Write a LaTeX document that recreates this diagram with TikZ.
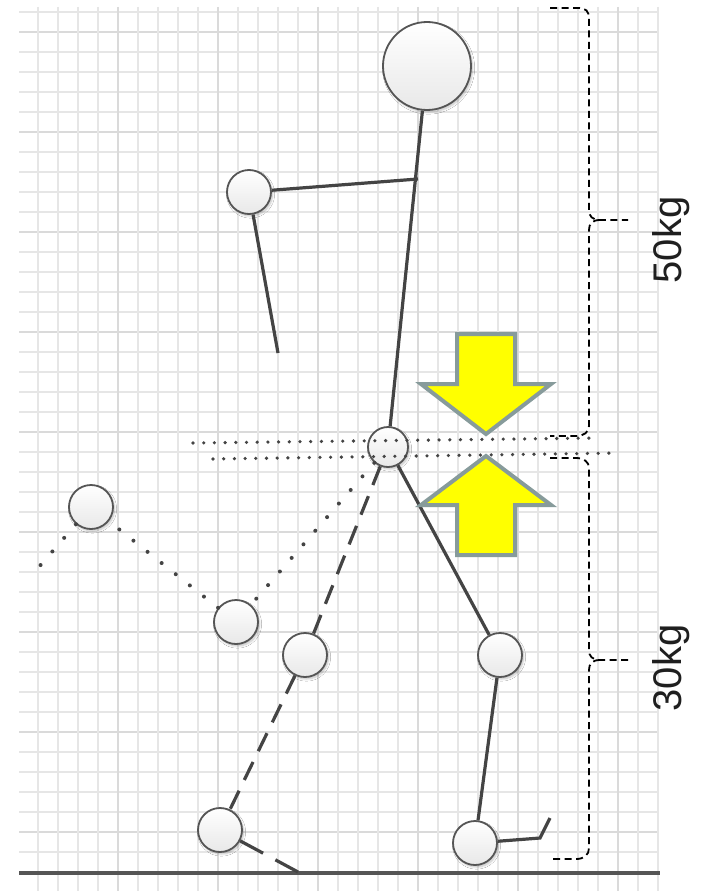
\documentclass[tikz,border=0pt]{standalone}
\usepackage{fontspec}
\setmainfont{Liberation Sans}
\usetikzlibrary{shadows.blur}
\definecolor{ink}{HTML}{444444}
\definecolor{rim}{HTML}{555555}
\definecolor{gridminor}{HTML}{E6E6E6}
\definecolor{gridmajor}{HTML}{DADADA}
\definecolor{arrowedge}{HTML}{879B9B}
\definecolor{arrowfill}{HTML}{FFFF00}
\begin{document}
\begin{tikzpicture}[x=1pt,y=-1pt,
  joint/.style={circle, draw=rim, line width=1.8pt, top color=white,
    bottom color=black!9, inner sep=0pt, minimum size=#1,
    blur shadow={shadow xshift=1.5pt, shadow yshift=-2pt,
      shadow blur steps=6, shadow opacity=25}},
  joint/.default=44pt,
  bone/.style={draw=ink, line width=3.2pt},
  dashedbone/.style={bone, dash pattern=on 20pt off 12pt},
  dottedbone/.style={draw=ink, line width=4pt, line cap=round,
    dash pattern=on 0pt off 18pt},
  levelline/.style={draw=ink, line width=3.6pt, line cap=round,
    dash pattern=on 0pt off 10.7pt},
  bracepath/.style={draw=black, line width=1.8pt, dash pattern=on 7pt off 4.5pt},
  bigarrow/.style={draw=arrowedge, fill=arrowfill, line width=4pt, line join=miter},
  weight/.style={rotate=90, font=\fontsize{40}{48}\selectfont, text=black!88}]

% canvas
\useasboundingbox (0,0) rectangle (702,891);
\fill[white] (0,0) rectangle (702,891);

% squared paper
\foreach \k in {0,...,43} {
  \pgfmathtruncatemacro{\yy}{12+20*\k}
  \pgfmathtruncatemacro{\ismajor}{mod(\k,5)==1 ? 1 : 0}
  \ifnum\ismajor=1
    \draw[gridmajor, line width=1.7pt] (19,\yy) -- (659,\yy);
  \else
    \draw[gridminor, line width=1.6pt] (19,\yy) -- (659,\yy);
  \fi
}
\foreach \k in {1,...,32} {
  \pgfmathtruncatemacro{\xx}{18+20*\k}
  \pgfmathtruncatemacro{\ismajor}{mod(\k,5)==0 ? 1 : 0}
  \ifnum\ismajor=1
    \draw[gridmajor, line width=1.7pt] (\xx,7) -- (\xx,891);
  \else
    \draw[gridminor, line width=1.6pt] (\xx,7) -- (\xx,891);
  \fi
}

% ground
\coordinate (groundL) at (19,873);
\coordinate (groundR) at (660,873);
\draw[draw=rim, line width=3.2pt] (groundL) -- (groundR);

% joints
\node[joint=88pt] (head) at (427,66) {};
\node[joint] (elbow) at (249,192) {};
\node[joint=40pt] (hip) at (388,447) {};
\node[joint] (kneeF) at (500,655) {};
\node[joint] (ankleF) at (475,843) {};
\node[joint] (kneeD) at (305,655) {};
\node[joint] (ankleD) at (220,830) {};
\node[joint] (kneeP) at (236,622) {};
\node[joint] (ankleP) at (91,507) {};

% free ends
\coordinate (shoulder) at (418,179);
\coordinate (hand) at (278,353);
\coordinate (heelF) at (540,838);
\coordinate (toeF) at (550,818);
\coordinate (toeD) at (298,872);
\coordinate (toeP) at (38,568);

% body and arm
\draw[bone] (head) -- (hip);
\draw[bone] (shoulder) -- (elbow) -- (hand);

% standing leg
\draw[bone] (hip) -- (kneeF) -- (ankleF) -- (heelF) -- (toeF);

% dashed leg
\draw[dashedbone] (hip) -- (kneeD) -- (ankleD);
\draw[dashedbone, dash pattern=on 26pt off 14pt] (ankleD) -- (toeD);

% dotted leg
\draw[dottedbone] (hip) -- (kneeP);
\draw[dottedbone] (kneeP) -- (ankleP);
\draw[dottedbone] (ankleP) -- (toeP);

% hip level lines
\coordinate (lvlA1) at (193,443);
\coordinate (lvlA2) at (597,438);
\coordinate (lvlB1) at (213,459);
\coordinate (lvlB2) at (617,453);
\draw[levelline] (lvlA1) -- (lvlA2);
\draw[levelline] (lvlB1) -- (lvlB2);

% compression arrows
\draw[bigarrow] (457,334) -- (515,334) -- (515,384) -- (551,384)
  -- (486,434) -- (421,384) -- (457,384) -- cycle;
\draw[bigarrow] (486,456) -- (551,505) -- (515,505) -- (515,555)
  -- (457,555) -- (457,505) -- (421,505) -- cycle;

% braces
\draw[bracepath] (550,8) -- (578,8) .. controls (586,8) and (589,11) .. (589,19)
  -- (589,210) .. controls (589,216) and (592,220) .. (600,220) -- (628,220);
\draw[bracepath] (600,220) .. controls (592,220) and (589,224) .. (589,230)
  -- (589,426) .. controls (589,432) and (584,436) .. (576,436) -- (550,436);
\draw[bracepath] (550,458) -- (576,458) .. controls (584,458) and (589,462) .. (589,468)
  -- (589,650) .. controls (589,656) and (592,660) .. (600,660) -- (628,660);
\draw[bracepath] (600,660) .. controls (592,660) and (589,664) .. (589,670)
  -- (589,848) .. controls (589,855) and (584,859) .. (576,859) -- (550,859);

% loads
\node[weight] (load50) at (671,240) {50kg};
\node[weight] (load30) at (671,668) {30kg};
\end{tikzpicture}
\end{document}
